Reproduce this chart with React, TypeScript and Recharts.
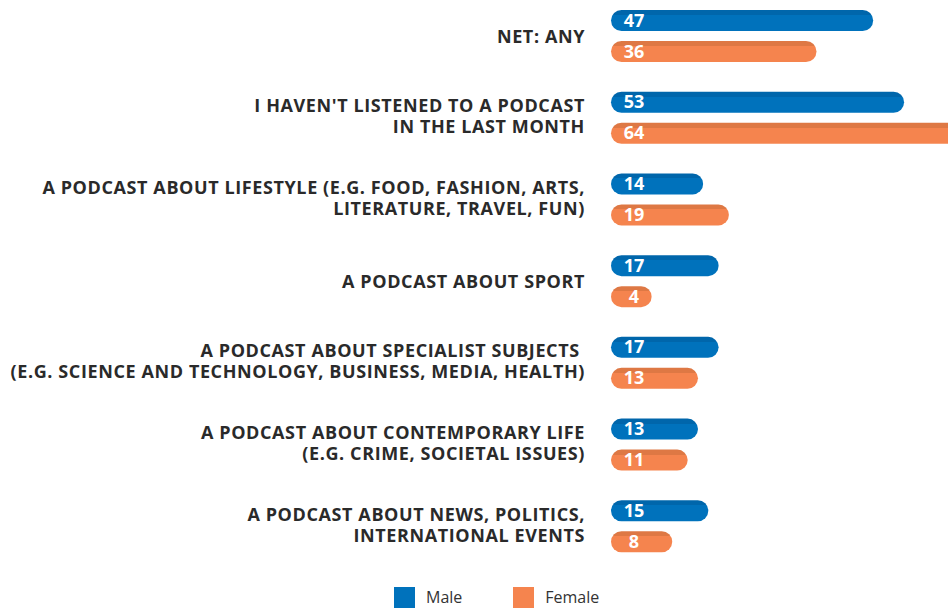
import React from "react";
import {
  BarChart,
  Bar,
  XAxis,
  YAxis,
  Legend,
  LabelList,
} from "recharts";

const CATEGORIES = [
  "NET: ANY",
  "I HAVEN'T LISTENED TO A PODCAST\nIN THE LAST MONTH",
  "A PODCAST ABOUT LIFESTYLE (E.G. FOOD, FASHION, ARTS,\nLITERATURE, TRAVEL, FUN)",
  "A PODCAST ABOUT SPORT",
  "A PODCAST ABOUT SPECIALIST SUBJECTS \n(E.G. SCIENCE AND TECHNOLOGY, BUSINESS, MEDIA, HEALTH)",
  "A PODCAST ABOUT CONTEMPORARY LIFE\n(E.G. CRIME, SOCIETAL ISSUES)",
  "A PODCAST ABOUT NEWS, POLITICS,\nINTERNATIONAL EVENTS",
];

const MALE = [47, 53, 14, 17, 17, 13, 15];
const FEMALE = [36, 64, 19, 4, 13, 11, 8];

const SERIES = [
  { key: "male", name: "Male", color: "#0072BC", top: "#0066AB" },
  { key: "female", name: "Female", color: "#F5844E", top: "#DE7844" },
];

const data = CATEGORIES.map((label, i) => ({
  label,
  male: MALE[i],
  female: FEMALE[i],
}));

const FONT = "'Open Sans', Lato, sans-serif";
const TEXT = "#2a2a2a";
// rounded bars carry a cap in front of the zero line
const CAP = 20;

const PillBar = (props: any) => {
  const { x, y, width, height, fill } = props;
  const w = Math.max(0, width) + CAP;
  const r = height / 2;
  return <rect x={x} y={y} width={w} height={height} rx={r} ry={r} fill={fill} />;
};

const CategoryTick = (props: any) => {
  const { x, y, payload } = props;
  const lines = String(payload.value).split("\n");
  const lh = 21;
  const start = -((lines.length - 1) * lh) / 2 - (lines.length > 1 ? 2 : 0);
  return (
    <g>
      {lines.map((ln, i) => (
        <text
          key={i}
          x={x}
          y={y + start + i * lh}
          textAnchor="end"
          dominantBaseline="central"
          fill={TEXT}
          fontFamily={FONT}
          fontWeight={700}
          fontSize={18}
          letterSpacing={0.6}
          style={{ whiteSpace: "pre" }}
        >
          {ln}
        </text>
      ))}
    </g>
  );
};

const ValueLabel = (props: any) => {
  const { x, y, height, value } = props;
  return (
    <text
      x={x + 23}
      y={y + height / 2 - 1}
      textAnchor="middle"
      dominantBaseline="central"
      fill="#ffffff"
      fontFamily={FONT}
      fontWeight={700}
      fontSize={18}
    >
      {value}
    </text>
  );
};

const LegendContent = () => (
  <div
    style={{
      display: "flex",
      alignItems: "center",
      marginLeft: 394,
      fontFamily: FONT,
      fontSize: 16,
      color: "#333",
    }}
  >
    {SERIES.map((s, i) => (
      <div
        key={s.key}
        style={{ display: "flex", alignItems: "center", marginRight: i === 0 ? 51 : 0 }}
      >
        <span
          style={{ width: 21, height: 21, background: s.color, display: "inline-block", marginRight: 11 }}
        />
        <span>{s.name}</span>
      </div>
    ))}
  </div>
);

export default function App() {
  return (
    <div style={{ position: "absolute", left: 0, top: 0, width: 948, height: 608, background: "#fff", overflow: "hidden" }}>
      <BarChart
        width={948}
        height={608}
        data={data}
        layout="vertical"
        margin={{ top: -5, right: 0, bottom: 20, left: 0 }}
        barSize={21}
        barGap={10}
      >
        <defs>
          {SERIES.map((s) => (
            <linearGradient key={s.key} id={`grad-${s.key}`} x1="0" y1="0" x2="0" y2="1">
              <stop offset="0" stopColor={s.top} />
              <stop offset="0.24" stopColor={s.top} />
              <stop offset="0.24" stopColor={s.color} />
              <stop offset="1" stopColor={s.color} />
            </linearGradient>
          ))}
        </defs>
        <XAxis type="number" domain={[0, 65.4]} hide />
        <YAxis
          type="category"
          dataKey="label"
          width={611}
          axisLine={false}
          tickLine={false}
          tickSize={0}
          tickMargin={26}
          interval={0}
          tick={<CategoryTick />}
        />
        <Legend
          verticalAlign="bottom"
          height={21}
          wrapperStyle={{ bottom: 1, left: 0, width: 948 }}
          content={<LegendContent />}
        />
        {SERIES.map((s) => (
          <Bar
            key={s.key}
            dataKey={s.key}
            name={s.name}
            fill={`url(#grad-${s.key})`}
            shape={<PillBar />}
            isAnimationActive={false}
          >
            <LabelList dataKey={s.key} content={<ValueLabel />} />
          </Bar>
        ))}
      </BarChart>
    </div>
  );
}
